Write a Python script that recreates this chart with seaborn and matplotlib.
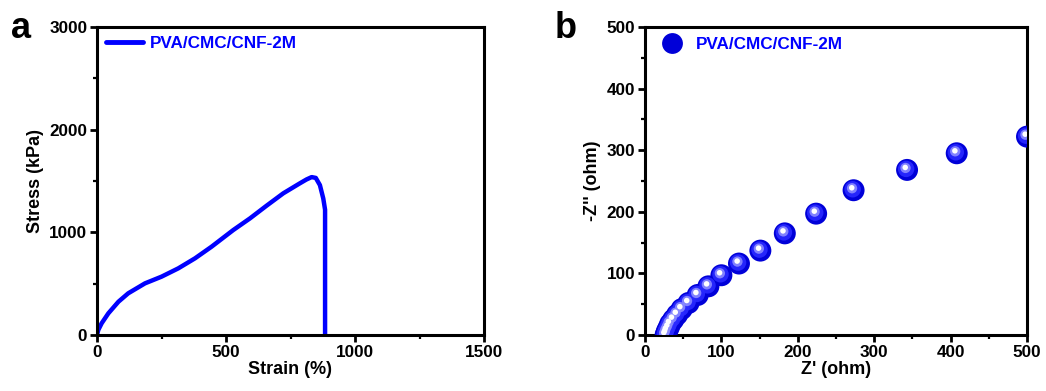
import numpy as np
import pandas as pd
import seaborn as sns
import matplotlib.pyplot as plt
from matplotlib.lines import Line2D

# (a) stress-strain curve
strain = [0, 5, 18, 44, 83, 121, 186, 250, 315, 380, 444, 528, 593, 657, 722,
          786, 812, 832, 848, 864, 877, 884, 884]
stress = [0, 49, 114, 211, 324, 406, 503, 568, 649, 747, 860, 1022, 1136, 1259,
          1380, 1477, 1515, 1538, 1530, 1460, 1330, 1220, 0]

# (b) Nyquist plot
z_re = [27, 28, 29, 31, 33, 37, 42, 48, 57, 69, 83, 100, 123, 151, 183,
        224, 273, 343, 408, 500]
z_im = [0, 3, 7, 12, 18, 25, 33, 42, 52, 65, 79, 97, 116, 137, 165,
        197, 235, 268, 295, 322]

label = "PVA/CMC/CNF-2M"
blue = "#0000ff"

sns.set_theme(style="ticks")
plt.rcParams["font.family"] = ["Liberation Sans", "DejaVu Sans"]
plt.rcParams["font.weight"] = "bold"
plt.rcParams["axes.labelweight"] = "bold"
plt.rcParams["text.color"] = "black"
plt.rcParams["axes.labelcolor"] = "black"
plt.rcParams["xtick.color"] = "black"
plt.rcParams["ytick.color"] = "black"

fig = plt.figure(figsize=(10.46, 3.91), dpi=100)
W, H = 1046, 391
ax1 = fig.add_axes([97 / W, (H - 335) / H, (484 - 97) / W, (335 - 27) / H])
ax2 = fig.add_axes([645 / W, (H - 335) / H, (1027 - 645) / W, (335 - 27) / H])

df_a = pd.DataFrame({"strain": strain, "stress": stress})
sns.lineplot(data=df_a, x="strain", y="stress", sort=False, estimator=None,
             color=blue, lw=3.2, ax=ax1, legend=False)
ax1.lines[0].set_solid_joinstyle("round")
ax1.set_xlim(0, 1500)
ax1.set_ylim(0, 3000)
ax1.set_xticks([0, 500, 1000, 1500])
ax1.set_yticks([0, 1000, 2000, 3000])
ax1.set_xticks([250, 750, 1250], minor=True)
ax1.set_yticks([500, 1500, 2500], minor=True)
ax1.set_xlabel("Strain (%)", fontsize=13, labelpad=1)
ax1.set_ylabel("Stress (kPa)", fontsize=13, labelpad=4)
h1 = Line2D([], [], color=blue, lw=3.5)
leg1 = ax1.legend([h1], [label], loc="upper left", frameon=False,
                  borderaxespad=0.1, handlelength=2.2, handletextpad=0.4,
                  prop={"weight": "bold", "size": 12.3})
for t in leg1.get_texts():
    t.set_color(blue)

df_b = pd.DataFrame({"zre": z_re, "zim": z_im})
zr = np.array(z_re)
zi = np.array(z_im)
sns.scatterplot(data=df_b, x="zre", y="zim", s=250, color="#0000d8",
                edgecolor="none", ax=ax2, zorder=3)
# sphere shading
sns.scatterplot(x=zr - 1.2, y=zi + 1.6, s=140, color="#2a2aff",
                edgecolor="none", ax=ax2, zorder=4, alpha=0.9)
sns.scatterplot(x=zr - 2.0, y=zi + 3.2, s=55, color="#8c8cff",
                edgecolor="none", ax=ax2, zorder=5, alpha=0.9)
sns.scatterplot(x=zr - 2.4, y=zi + 4.0, s=16, color="white",
                edgecolor="none", ax=ax2, zorder=6)
ax2.set_xlim(0, 500)
ax2.set_ylim(0, 500)
ax2.set_xticks([0, 100, 200, 300, 400, 500])
ax2.set_yticks([0, 100, 200, 300, 400, 500])
ax2.set_xticks([50, 150, 250, 350, 450], minor=True)
ax2.set_yticks([50, 150, 250, 350, 450], minor=True)
ax2.set_xlabel("Z' (ohm)", fontsize=13, labelpad=1)
ax2.set_ylabel("-Z'' (ohm)", fontsize=13, labelpad=4)
h2 = Line2D([], [], ls="none", marker="o", ms=15, mfc="#0000d8", mec="none")
leg2 = ax2.legend([h2], [label], loc="upper left", frameon=False,
                  borderaxespad=0.2, handletextpad=0.4,
                  prop={"weight": "bold", "size": 12.3})
for t in leg2.get_texts():
    t.set_color(blue)

for ax in (ax1, ax2):
    for sp in ax.spines.values():
        sp.set_linewidth(2.2)
        sp.set_color("black")
        sp.set_visible(True)
    ax.tick_params(which="major", direction="out", length=5, width=2,
                   labelsize=12.3, pad=2, colors="black")
    ax.tick_params(which="minor", direction="out", length=3, width=1.6)
    for lab in ax.get_xticklabels() + ax.get_yticklabels():
        lab.set_fontweight("bold")

fig.text(11 / W, 1 - 38 / H, "a", fontsize=26, fontweight="bold")
fig.text(555 / W, 1 - 38 / H, "b", fontsize=26, fontweight="bold")

fig.savefig("out.png", dpi=100)
